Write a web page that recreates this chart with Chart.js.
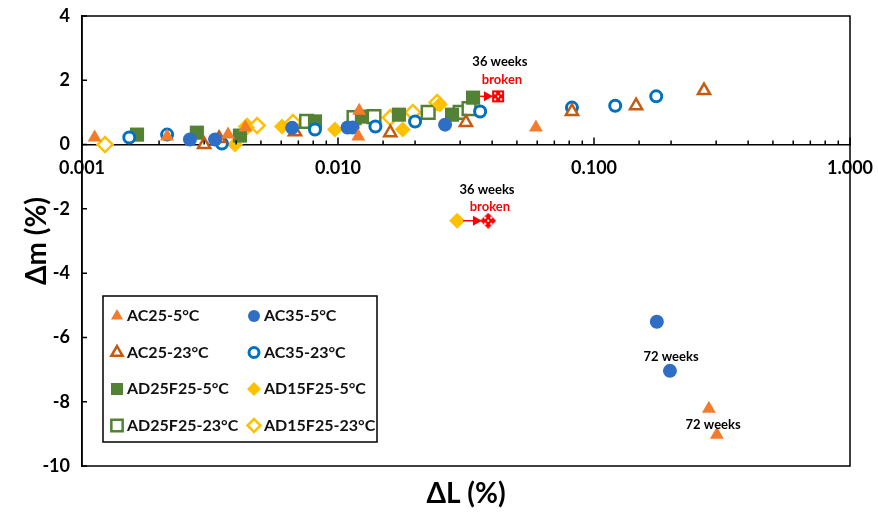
<!DOCTYPE html>
<html>
<head>
<meta charset="utf-8">
<title>ΔL vs Δm</title>
<script src="https://cdn.jsdelivr.net/npm/chart.js"></script>
<style>
  body { margin: 0; background: #fff; }
</style>
</head>
<body>
<canvas id="myChart" width="878" height="524"></canvas>
<script>
// values: x = ΔL (%), y = Δm (%)
const ac25_5_x  = [0.00112, 0.00215, 0.00372, 0.00435, 0.0120, 0.0121, 0.0593, 0.281, 0.302];
const ac25_5_y  = [0.22, 0.25, 0.31, 0.53, 0.25, 1.05, 0.53, -8.22, -9.03];
const ac35_5_x  = [0.00264, 0.00331, 0.00662, 0.0109, 0.0114, 0.0262, 0.176, 0.198];
const ac35_5_y  = [0.16, 0.16, 0.52, 0.53, 0.53, 0.62, -5.51, -7.04];
const ac25_23_x = [0.00300, 0.00343, 0.00679, 0.0160, 0.0316, 0.0820, 0.146, 0.269];
const ac25_23_y = [0.0, 0.19, 0.40, 0.37, 0.69, 1.03, 1.21, 1.68];
const ac35_23_x = [0.00153, 0.00215, 0.00352, 0.00813, 0.0140, 0.0200, 0.0359, 0.0820, 0.121, 0.175];
const ac35_23_y = [0.22, 0.31, 0.03, 0.47, 0.56, 0.72, 1.03, 1.15, 1.21, 1.50];
const ad25_5_x  = [0.00164, 0.00281, 0.00414, 0.00813, 0.0124, 0.0173, 0.0279, 0.0337];
const ad25_5_y  = [0.31, 0.37, 0.28, 0.72, 0.87, 0.93, 0.93, 1.46];
const ad15_5_x  = [0.00396, 0.00441, 0.00604, 0.00973, 0.0179, 0.0250, 0.0292];
const ad15_5_y  = [0.0, 0.53, 0.56, 0.47, 0.47, 1.25, -2.37];
const ad25_23_x = [0.00754, 0.01155, 0.01382, 0.0225, 0.0300, 0.0325];
const ad25_23_y = [0.72, 0.84, 0.87, 1.0, 1.0, 1.12];
const ad15_23_x = [0.00123, 0.00441, 0.00483, 0.00667, 0.0160, 0.0196, 0.0244];
const ad15_23_y = [0.0, 0.56, 0.59, 0.69, 0.84, 1.0, 1.31];

// specimens that broke at 36 weeks
const brokenSq_x = [0.0422];
const brokenSq_y = [1.50];
const brokenDi_x = [0.0386];
const brokenDi_y = [-2.37];

// arrows (from, to) in data units
const arrows = [
  [[0.0359, 1.50], [0.0403, 1.50]],
  [[0.0308, -2.37], [0.0365, -2.37]]
];
// text notes in data units
const notes = [
  ['36 weeks', 0.0429, 2.59, '#000'],
  ['broken',   0.0437, 2.02, '#FF0000'],
  ['36 weeks', 0.0382, -1.40, '#000'],
  ['broken',   0.0392, -1.93, '#FF0000'],
  ['72 weeks', 0.200, -6.60, '#000'],
  ['72 weeks', 0.292, -8.72, '#000']
];

const yTicks = [4, 2, 0, -2, -4, -6, -8, -10];
const legendOrder = ['AC25-5°C', 'AC35-5°C', 'AC25-23°C', 'AC35-23°C',
                     'AD25F25-5°C', 'AD15F25-5°C', 'AD25F25-23°C', 'AD15F25-23°C'];

const family = 'Lato, "Open Sans", sans-serif';

function pts(xs, ys) {
  return xs.map((x, i) => ({x: x, y: ys[i]}));
}

function isDecade(v) {
  const l = Math.log10(v);
  return Math.abs(l - Math.round(l)) < 1e-9;
}

// red marker with white dots
function brokenMark(shape) {
  const c = document.createElement('canvas');
  c.width = c.height = 16;
  const g = c.getContext('2d');
  g.fillStyle = '#FF0000';
  if (shape === 'rect') {
    g.fillRect(2, 2, 12, 12);
  } else {
    g.beginPath();
    g.moveTo(8, 0); g.lineTo(16, 8); g.lineTo(8, 16); g.lineTo(0, 8);
    g.closePath(); g.fill();
  }
  g.fillStyle = '#fff';
  [[5, 5], [11, 5], [8, 8], [5, 11], [11, 11]].forEach(([a, b]) => g.fillRect(a - 1, b - 1, 2, 2));
  return c;
}

const datasets = [
  {label: 'AC25-5°C', data: pts(ac25_5_x, ac25_5_y), pointStyle: 'triangle', pointRadius: 8,
   backgroundColor: '#F47A2C', borderColor: '#F47A2C', borderWidth: 0, lr: 7},
  {label: 'AC35-5°C', data: pts(ac35_5_x, ac35_5_y), pointStyle: 'circle', pointRadius: 7,
   backgroundColor: '#2F6EC6', borderColor: '#2F6EC6', borderWidth: 0, lr: 6},
  {label: 'AC25-23°C', data: pts(ac25_23_x, ac25_23_y), pointStyle: 'triangle', pointRadius: 7,
   backgroundColor: '#fff', borderColor: '#C55A11', borderWidth: 2.5, lr: 6.5},
  {label: 'AC35-23°C', data: pts(ac35_23_x, ac35_23_y), pointStyle: 'circle', pointRadius: 5.5,
   backgroundColor: '#fff', borderColor: '#0070C0', borderWidth: 3, lr: 5},
  {label: 'AD25F25-5°C', data: pts(ad25_5_x, ad25_5_y), pointStyle: 'rect', pointRadius: 10,
   backgroundColor: '#548235', borderColor: '#548235', borderWidth: 0, lr: 8.5},
  {label: 'AD15F25-5°C', data: pts(ad15_5_x, ad15_5_y), pointStyle: 'rectRot', pointRadius: 8,
   backgroundColor: '#FFC000', borderColor: '#FFC000', borderWidth: 0, lr: 7},
  {label: 'AD25F25-23°C', data: pts(ad25_23_x, ad25_23_y), pointStyle: 'rect', pointRadius: 9,
   backgroundColor: '#fff', borderColor: '#548235', borderWidth: 2.5, lr: 8},
  {label: 'AD15F25-23°C', data: pts(ad15_23_x, ad15_23_y), pointStyle: 'rectRot', pointRadius: 7.5,
   backgroundColor: '#fff', borderColor: '#FFC000', borderWidth: 2.5, lr: 6.5},
  {label: 'broken-sq', data: pts(brokenSq_x, brokenSq_y), pointStyle: brokenMark('rect')},
  {label: 'broken-di', data: pts(brokenDi_x, brokenDi_y), pointStyle: brokenMark('diamond')}
];
datasets.forEach(d => { d.pointHoverRadius = d.pointRadius; });

// box, inner tick marks
const frame = {
  id: 'frame',
  afterDraw(chart) {
    const {ctx, chartArea: a, scales} = chart;
    const x = scales.x, y = scales.y;
    const y0 = y.getPixelForValue(0);
    ctx.save();
    ctx.strokeStyle = '#000';
    ctx.lineWidth = 1.5;
    ctx.strokeRect(a.left, a.top, a.right - a.left, a.bottom - a.top);
    ctx.beginPath();
    x.ticks.forEach(t => {
      const px = x.getPixelForValue(t.value);
      ctx.moveTo(px, y0);
      ctx.lineTo(px, y0 - (isDecade(t.value) ? 7 : 4));
    });
    y.ticks.forEach(t => {
      const py = y.getPixelForValue(t.value);
      ctx.moveTo(a.left, py);
      ctx.lineTo(a.left + 5, py);
    });
    ctx.stroke();
    ctx.restore();
  }
};

// arrows and text notes
const notesPlugin = {
  id: 'notes',
  afterDatasetsDraw(chart) {
    const {ctx, scales} = chart;
    const x = scales.x, y = scales.y;
    ctx.save();
    ctx.strokeStyle = '#FF0000';
    ctx.fillStyle = '#FF0000';
    ctx.lineWidth = 1.5;
    arrows.forEach(([p, q]) => {
      const x1 = x.getPixelForValue(p[0]), y1 = y.getPixelForValue(p[1]);
      const x2 = x.getPixelForValue(q[0]), y2 = y.getPixelForValue(q[1]);
      ctx.beginPath();
      ctx.moveTo(x1, y1); ctx.lineTo(x2 - 7, y2);
      ctx.stroke();
      ctx.beginPath();
      ctx.moveTo(x2, y2); ctx.lineTo(x2 - 9, y2 - 5); ctx.lineTo(x2 - 9, y2 + 5);
      ctx.closePath(); ctx.fill();
    });
    ctx.font = 'bold 13px ' + family;
    ctx.textAlign = 'center';
    ctx.textBaseline = 'middle';
    notes.forEach(([txt, vx, vy, col]) => {
      ctx.fillStyle = col;
      ctx.fillText(txt, x.getPixelForValue(vx), y.getPixelForValue(vy));
    });
    ctx.restore();
  }
};

// legend box inside the plot
const legendBox = {
  id: 'legendBox',
  afterDraw(chart) {
    const ctx = chart.ctx;
    const bx = 103, by = 296, bw = 274, bh = 146;
    ctx.save();
    ctx.fillStyle = '#fff';
    ctx.fillRect(bx, by, bw, bh);
    ctx.strokeStyle = '#000';
    ctx.lineWidth = 1.5;
    ctx.strokeRect(bx, by, bw, bh);
    ctx.font = 'bold 16px ' + family;
    ctx.textBaseline = 'middle';
    ctx.textAlign = 'left';
    legendOrder.forEach((lab, i) => {
      const d = chart.data.datasets.find(s => s.label === lab);
      const col = i % 2, row = Math.floor(i / 2);
      const mx = bx + 14 + col * 137, my = by + 20 + row * 36.5;
      ctx.fillStyle = d.backgroundColor;
      ctx.strokeStyle = d.borderColor;
      ctx.lineWidth = d.borderWidth;
      Chart.helpers.drawPoint(ctx, {pointStyle: d.pointStyle, radius: d.lr, rotation: 0, borderWidth: d.borderWidth}, mx, my);
      ctx.fillStyle = '#111';
      ctx.fillText(lab, mx + 10, my);
    });
    ctx.restore();
  }
};

const tickFont = {family: family, size: 18, weight: 'bold'};
const titleFont = {family: family, size: 28, weight: 'bold'};

new Chart(document.getElementById('myChart').getContext('2d'), {
  type: 'scatter',
  data: {datasets: datasets},
  options: {
    responsive: false,
    animation: false,
    layout: {padding: {top: 16, right: 28, left: 0, bottom: 0}},
    plugins: {legend: {display: false}, tooltip: {enabled: false}},
    scales: {
      x: {
        type: 'logarithmic', min: 0.001, max: 1,
        position: {y: 0},
        grid: {display: false, drawTicks: false},
        border: {display: true, color: '#000', width: 1.5},
        ticks: {autoSkip: false, maxRotation: 0, padding: 13, color: '#000', font: tickFont,
                callback: v => isDecade(v) ? Number(v).toFixed(3) : ''},
        afterFit: s => { s.paddingLeft = 0; s.paddingRight = 0; }
      },
      xTitle: {
        type: 'linear', axis: 'x', position: 'bottom',
        grid: {display: false, drawTicks: false},
        border: {display: false},
        ticks: {display: false},
        title: {display: true, text: 'ΔL (%)', color: '#000', font: titleFont, padding: {top: 0, bottom: 13}},
        afterFit: s => { s.height = 58; s.paddingLeft = 0; s.paddingRight = 0; }
      },
      y: {
        type: 'linear', min: -10, max: 4, position: 'left',
        grid: {display: false, drawTicks: false},
        border: {display: true, color: '#000', width: 1.5},
        ticks: {stepSize: 2, padding: 12, color: '#000', font: tickFont},
        afterBuildTicks: s => { s.ticks = yTicks.map(v => ({value: v})); },
        title: {display: true, text: 'Δm (%)', color: '#000', font: titleFont, padding: {top: 20, bottom: 0}},
        afterFit: s => { s.width = 82; s.paddingTop = 0; s.paddingBottom = 0; }
      }
    }
  },
  plugins: [frame, notesPlugin, legendBox]
});
</script>
</body>
</html>
